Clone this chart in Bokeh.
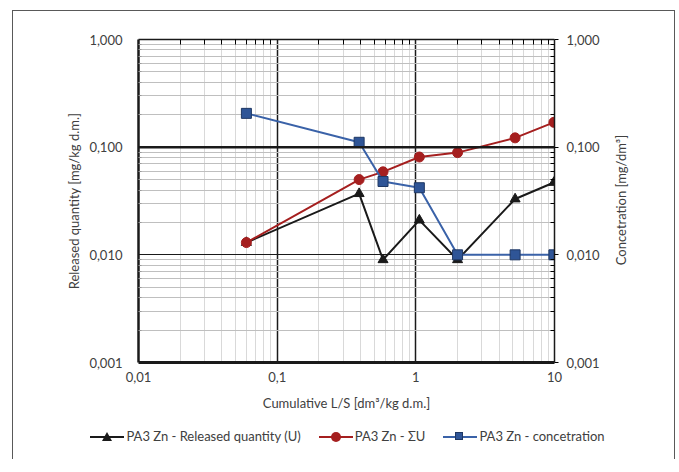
from bokeh.plotting import figure
from bokeh.layouts import column, row
from bokeh.models import (Range1d, LogAxis, FixedTicker, Span, Div)
from bokeh.embed import file_html
from bokeh.resources import INLINE

# ---- data ----
ls_values = [0.06, 0.39, 0.58, 1.06, 2.0, 5.2, 9.9]
released_u = [0.013, 0.037, 0.009, 0.021, 0.009, 0.033, 0.047]
sum_u = [0.013, 0.050, 0.059, 0.081, 0.089, 0.122, 0.170]
concentration = [0.206, 0.111, 0.048, 0.042, 0.010, 0.010, 0.010]

x_ticks = [0.01, 0.1, 1, 10]
x_tick_labels = ["0,01", "0,1", "1", "10"]
y_ticks = [0.001, 0.01, 0.1, 1]
y_tick_labels = ["0,001", "0,010", "0,100", "1,000"]

series_names = ["PA3 Zn - Released quantity (U)", "PA3 Zn - \u03a3U", "PA3 Zn - concetration"]
right_title = "Concetration [mg/dm\u00b3]"

FONT = "Lato"
TXT = "#404040"
FS = "13px"

colors = ["#1a1a1a", "#a51f1f", "#3a62a8"]
fills = ["#1a1a1a", "#a51f1f", "#2f5597"]
outlines = ["#1a1a1a", "#a51f1f", "#1f3864"]
markers = ["triangle", "circle", "square"]

p = figure(width=601, height=403, x_axis_type="log", y_axis_type="log",
           x_range=Range1d(0.01, 10), y_range=Range1d(0.001, 1),
           output_backend="svg", toolbar_location=None,
           min_border_left=125, min_border_right=60, min_border_top=28,
           min_border_bottom=52)
p.outline_line_color = None
p.background_fill_color = "white"
p.border_fill_color = "white"
p.extra_y_ranges = {"right": Range1d(0.001, 1)}

minor_x = [m * 10.0 ** e for e in range(-2, 1) for m in range(2, 10)]
minor_y = [m * 10.0 ** e for e in range(-3, 0) for m in range(2, 10)]

xt = FixedTicker(ticks=x_ticks, minor_ticks=minor_x)
yt = FixedTicker(ticks=y_ticks, minor_ticks=minor_y)

xa = p.xaxis[0]
xa.ticker = xt
xa.major_label_overrides = {t: l for t, l in zip(x_ticks, x_tick_labels)}
xa.axis_label = "Cumulative L/S [dm\u00b3/kg d.m.]"
xa.axis_line_width = 3
xa.axis_line_color = "#1a1a1a"
xa.major_tick_out = 0
xa.major_tick_in = 0
xa.minor_tick_out = 0
xa.minor_tick_in = 0
xa.major_label_standoff = 9
xa.axis_label_standoff = 10

ya = p.yaxis[0]
ya.ticker = yt
ya.major_label_overrides = {t: l for t, l in zip(y_ticks, y_tick_labels)}
ya.axis_label = "Released quantity [mg/kg d.m.]"
ya.axis_line_width = 2.5
ya.axis_line_color = "#1a1a1a"
ya.major_tick_out = 0
ya.major_tick_in = 0
ya.minor_tick_out = 0
ya.minor_tick_in = 3
ya.minor_tick_line_color = "#999999"
ya.major_label_standoff = 16
ya.axis_label_standoff = 4

ra = LogAxis(y_range_name="right", ticker=yt)
ra.major_label_overrides = {t: l for t, l in zip(y_ticks, y_tick_labels)}
ra.axis_line_width = 1.5
ra.axis_line_color = "#1a1a1a"
ra.major_tick_out = 4
ra.major_tick_in = 0
ra.minor_tick_in = 4
ra.minor_tick_out = 0
ra.major_label_standoff = 8
p.add_layout(ra, "right")

ta = LogAxis(ticker=xt)
ta.major_label_text_font_size = "0px"
ta.major_label_text_color = None
ta.axis_line_width = 1.5
ta.axis_line_color = "#1a1a1a"
ta.major_tick_out = 0
ta.major_tick_in = 0
ta.minor_tick_in = 5
ta.minor_tick_out = 0
ta.major_label_standoff = 0
p.add_layout(ta, "above")

for ax in [xa, ya, ra]:
    ax.major_label_text_font = FONT
    ax.major_label_text_font_size = FS
    ax.major_label_text_color = TXT
    ax.axis_label_text_font = FONT
    ax.axis_label_text_font_size = FS
    ax.axis_label_text_font_style = "normal"
    ax.axis_label_text_color = TXT

# grids
p.xgrid.ticker = xt
p.ygrid.ticker = yt
p.xgrid.grid_line_color = "#1a1a1a"
p.xgrid.grid_line_width = 1.5
p.ygrid.grid_line_color = "#1a1a1a"
p.ygrid.grid_line_width = 1.2
p.xgrid.minor_grid_line_color = "#d9d9d9"
p.xgrid.minor_grid_line_width = 1
p.ygrid.minor_grid_line_color = "#bfbfbf"
p.ygrid.minor_grid_line_width = 1

p.add_layout(Span(location=y_ticks[2], dimension="width", line_color="#1a1a1a", line_width=2.5))

# series
for ys, c, f, o, mk in zip([released_u, sum_u, concentration], colors, fills, outlines, markers):
    p.line(ls_values, ys, line_color=c, line_width=2)
    p.scatter(ls_values, ys, marker=mk, size=10, fill_color=f, line_color=o)

# right axis title (rotated HTML text, reading bottom-to-top)
title_html = ("<div style='position:relative;width:60px;height:403px;overflow:visible;'>"
              "<div style='position:absolute;left:7px;top:189px;"
              "transform:translate(-50%,-50%) rotate(-90deg);white-space:nowrap;"
              f"font-family:{FONT};font-size:{FS};color:{TXT};'>{right_title}</div></div>")
title_div = Div(text=title_html, width=60, height=403, margin=0)


# legend strip (HTML) below the chart
def swatch(color, fill, outline, marker):
    if marker == "triangle":
        mk = ("<span style='position:absolute;left:12px;top:0px;width:0;height:0;"
              "border-left:5px solid transparent;border-right:5px solid transparent;"
              f"border-bottom:9px solid {fill};'></span>")
    elif marker == "circle":
        mk = ("<span style='position:absolute;left:12px;top:0px;width:10px;height:10px;"
              f"border-radius:50%;background:{fill};'></span>")
    else:
        mk = ("<span style='position:absolute;left:12px;top:0px;width:8px;height:8px;"
              f"background:{fill};border:1px solid {outline};'></span>")
    return ("<span style='position:relative;display:inline-block;width:34px;height:10px;"
            "margin-right:2px;'>"
            f"<span style='position:absolute;left:0;width:34px;top:4px;height:2px;background:{color};'></span>"
            + mk + "</span>")


parts = []
for name, c, f, o, mk in zip(series_names, colors, fills, outlines, markers):
    parts.append("<span style='display:inline-flex;align-items:center;margin:0 9px;'>"
                 + swatch(c, f, o, mk) + f"<span>{name}</span></span>")
legend_html = ("<div style='width:661px;height:45px;display:flex;justify-content:center;"
               f"align-items:center;font-family:{FONT};font-size:{FS};color:{TXT};"
               "white-space:nowrap;padding-left:8px;box-sizing:border-box;'>"
               + "".join(parts) + "</div>")
legend_div = Div(text=legend_html, width=661, height=45, margin=0)

layout = column(row(p, title_div, spacing=0), legend_div, spacing=0, margin=(10, 0, 0, 12),
                styles={"border-left": "1.5px solid #595959",
                        "border-top": "1.5px solid #595959",
                        "border-right": "1.5px solid #595959"})

open("out.html", "w").write(file_html(layout, INLINE))
